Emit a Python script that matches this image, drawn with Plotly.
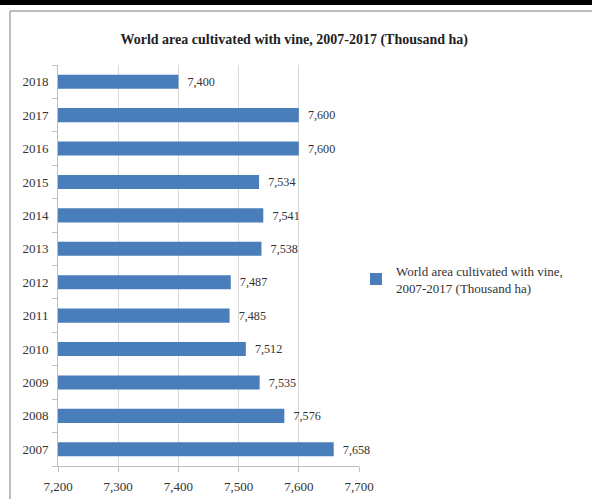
import plotly.graph_objects as go

years = ["2007", "2008", "2009", "2010", "2011", "2012", "2013", "2014", "2015", "2016", "2017", "2018"]
values = [7658, 7576, 7535, 7512, 7485, 7487, 7538, 7541, 7534, 7600, 7600, 7400]
series_name = "World area cultivated with vine,<br>2007-2017 (Thousand ha)"
title_text = "World area cultivated with vine, 2007-2017 (Thousand ha)"
x_ticks = [7200, 7300, 7400, 7500, 7600, 7700]

font_family = "Liberation Serif, Times New Roman, serif"
bar_color = "#4a7ebb"

W, H = 592, 499
L, R, T, B = 58, 233, 65, 33
pw, ph = W - L - R, H - T - B
def px_x(p):
    return (p - L) / pw
def px_y(p):
    return (H - B - p) / ph

fig = go.Figure()
fig.add_trace(go.Bar(
    y=years, x=values, orientation="h",
    name=series_name,
    marker=dict(color=bar_color, line=dict(width=0)),
    text=[f"  {v:,}" for v in values],
    textposition="outside",
    textfont=dict(family=font_family, size=13, color="#333333"),
    cliponaxis=False,
    showlegend=True,
))

fig.update_layout(
    width=W, height=H,
    margin=dict(l=L, r=R, t=T, b=B, autoexpand=False),
    paper_bgcolor="white", plot_bgcolor="white",
    bargap=0.58,
    font=dict(family=font_family, size=13, color="#333333"),
    title=dict(text="<b>" + title_text + "</b>", x=0.497, xanchor="center",
               y=0.921, yanchor="middle",
               font=dict(family=font_family, size=14, color="#222222")),
    xaxis=dict(range=[7200, 7700], tickvals=x_ticks, tickformat=",",
               showgrid=True, gridcolor="#d9d9d9", gridwidth=1,
               showline=True, linecolor="#bfbfbf", linewidth=1,
               ticks="outside", ticklen=5, tickcolor="#bfbfbf",
               ticklabelstandoff=3, automargin=False,
               zeroline=False, tickfont=dict(size=13, color="#333333")),
    yaxis=dict(showline=True, linecolor="#bfbfbf", linewidth=1,
               ticks="outside", ticklen=5, tickcolor="#bfbfbf",
               tickson="boundaries", showgrid=False,
               ticklabelstandoff=6, automargin=False,
               tickfont=dict(size=13, color="#333333")),
    legend=dict(x=0.99, y=0.466, xanchor="left", yanchor="middle",
                font=dict(family=font_family, size=13, color="#333333"),
                bgcolor="rgba(0,0,0,0)", itemwidth=30),
    shapes=[
        dict(type="rect", xref="paper", yref="paper",
             x0=px_x(0), x1=px_x(592), y0=px_y(0), y1=px_y(5),
             fillcolor="black", line=dict(width=0), layer="above"),
        dict(type="line", xref="paper", yref="paper",
             x0=px_x(10), x1=px_x(10), y0=px_y(11), y1=px_y(499),
             line=dict(color="#a6a6a6", width=1.5)),
        dict(type="line", xref="paper", yref="paper",
             x0=px_x(10), x1=px_x(592), y0=px_y(11), y1=px_y(11),
             line=dict(color="#a6a6a6", width=1.5)),
    ],
)

fig.write_html("out.html")
